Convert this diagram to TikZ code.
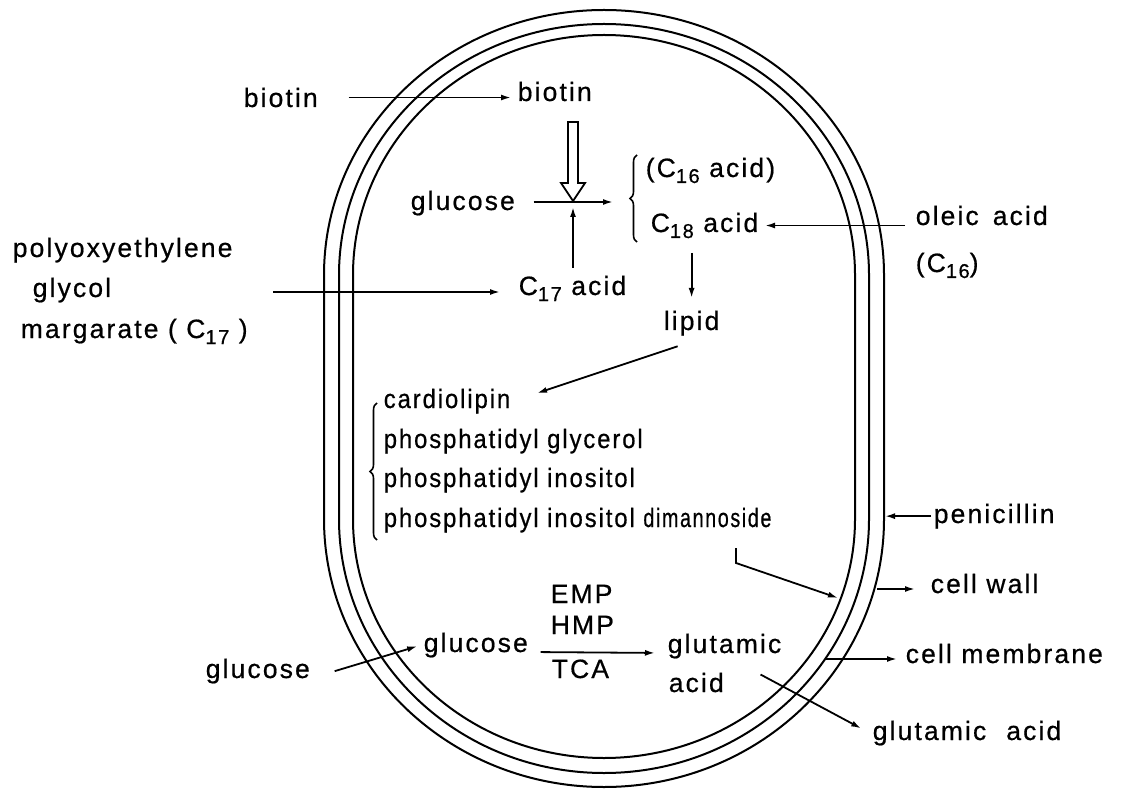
\documentclass[tikz,border=0pt]{standalone}
\usepackage{fontspec}
\setmainfont[LetterSpace=8,FakeBold=0.6]{Liberation Sans}
\usepackage{graphicx}
\usetikzlibrary{arrows.meta,positioning,calc,decorations.pathreplacing}
\newcommand{\lowidx}[1]{\raisebox{-6pt}{\fontsize{20}{20}\selectfont #1}}
\newcommand{\narrow}[1]{\scalebox{0.9}[1]{#1}}

\begin{document}
\begin{tikzpicture}[
  x=1pt, y=-1pt,
  font=\fontsize{26.5}{30}\selectfont,
  line width=1.6pt,
  lbl/.style={anchor=base west, inner sep=2pt},
  arrow/.style={-{Latex[length=10pt,width=6pt]}, line width=1.8pt},
  wall/.style={line width=2pt},
  hollow/.style={line width=1.8pt, line join=miter},
  bracket/.style={decorate, decoration={brace, amplitude=7pt}, line width=1.6pt}
]
\useasboundingbox (0,0) rectangle (1137,791);

% cell envelope: wall, membrane, inner line
\foreach \a/\bt/\bb in {280/265/268, 265/251/254, 251/240/239}
  \draw[wall] (604-\a,275) arc[start angle=180, end angle=360, x radius=\a, y radius=\bt]
    -- (604+\a,519) arc[start angle=0, end angle=180, x radius=\a, y radius=\bb] -- cycle;

% upper part
\node[lbl] (biotout) at (241,107) {biotin};
\node[lbl] (biotin) at (515,101) {biotin};
\coordinate (mix) at (573,202);
\node[lbl] (glucin) at (408,210) {glucose};
\node[lbl] (c16) at (643,177) {(C\lowidx{16} acid)};
\node[lbl] (c18) at (648,232) {C\lowidx{18} acid};
\node[lbl] (c17) at (516,295) {C\lowidx{17} acid};
\node[lbl] (oleic) at (913,225) {oleic\hspace{14pt}acid};
\node[lbl] (c16o) at (913,272) {(C\lowidx{16})};
\node[lbl] (poly1) at (10,257) {polyoxyethylene};
\node[lbl] (poly2) at (30,297) {glycol};
\node[lbl] (poly3) at (18,338) {margarate ( C\lowidx{17} )};
\node[lbl] (lipid) at (661,330) {lipid};
\coordinate (polystart) at (273,292);

\draw[arrow, shorten <=28pt, shorten >=4pt] (biotout.east) -- (biotout.east -| biotin.west);
\draw[hollow, shift={(mix)}] (-5,-80) -- (-5,-19) -- (-12,-19) -- (0,-1) -- (12,-19) -- (5,-19) -- (5,-80) -- cycle;
\draw[arrow, shorten <=16pt, shorten >=30pt] (glucin.east |- mix) -- (mix -| c16.west);
\draw[arrow, shorten <=5pt, shorten >=5pt] (c17.north -| mix) -- (mix);
\draw[bracket] (637,242) -- (637,155);
\draw[arrow, shorten <=8pt, shorten >=4pt] ([yshift=-10pt]oleic.west) -- ([yshift=-10pt]oleic.west -| c18.east);
\draw[arrow, shorten <=12pt, shorten >=10pt] (c18.south -| lipid.north) -- (lipid.north);
\draw[arrow, shorten >=16pt] (polystart) -- (polystart -| c17.west);

% phospholipids
\node[lbl] (cardio) at (381,408) {\narrow{cardiolipin}};
\node[lbl] (pg) at (381,448) {\narrow{phosphatidyl glycerol}};
\node[lbl] (pi) at (381,487) {\narrow{phosphatidyl inositol}};
\node[lbl] (pid) at (381,527) {\narrow{phosphatidyl inositol \scalebox{0.83}[1]{dimannoside}}};
\coordinate (dimbend) at (736,548);
\coordinate (innerwall) at (838,598);

\draw[arrow] ([xshift=-14pt,yshift=-8pt]lipid.south) -- ([xshift=24pt,yshift=8pt]cardio.east);
\draw[bracket] (377,540) -- (377,403);
\draw[arrow] (dimbend) -- ++(0,15) -- (innerwall);

% glutamic acid production
\node[lbl] (emp) at (548,603) {EMP};
\node[lbl] (hmp) at (548,634) {HMP};
\node[lbl] (tca) at (549,678) {TCA};
\node[lbl] (gluc2) at (421,652) {glucose};
\node[lbl] (glutam) at (665,653) {glutamic};
\node[lbl] (gacid) at (666,692) {acid};
\node[lbl] (gluco) at (203,678) {glucose};
\node[lbl] (glutout) at (870,740) {glutamic\hspace{20pt}acid};

\draw[arrow, shorten <=10pt, shorten >=10pt] (gluc2.base east) -- (glutam.base west);
\draw[arrow, shorten >=4pt] ([xshift=22pt]gluco.east) -- (gluc2.west);
\draw[arrow, shorten >=10pt] ([xshift=34pt,yshift=8pt]gacid.east) -- (glutout.west);

% labels outside
\node[lbl] (pen) at (931,523) {penicillin};
\node[lbl] (cwall) at (928,593) {cell wall};
\node[lbl] (cmem) at (903,663) {cell membrane};
\coordinate (outerwall) at (885,520);
\coordinate (wallpt) at (877,589);
\coordinate (mempt) at (825,659);

\draw[arrow] (pen.west) -- (outerwall |- pen.west);
\draw[arrow, shorten >=13pt] (wallpt) -- (wallpt -| cwall.west);
\draw[arrow, shorten >=6pt] (mempt) -- (mempt -| cmem.west);
\end{tikzpicture}
\end{document}
